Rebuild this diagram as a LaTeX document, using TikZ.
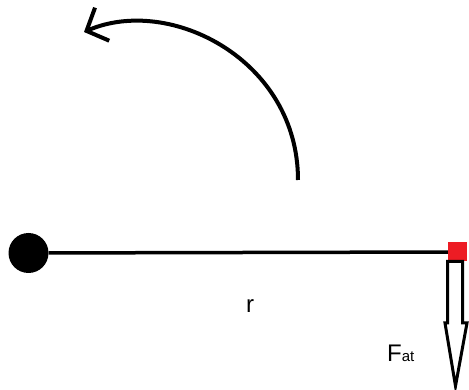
\documentclass[tikz,border=0pt]{standalone}
\usepackage{fontspec}
\setmainfont{Liberation Sans}
\usetikzlibrary{arrows.meta}
\definecolor{PaintRed}{HTML}{ED1C24}

\begin{document}
\begin{tikzpicture}[x=1pt,y=-1pt,
  mass/.style={circle,fill=black,inner sep=0pt,minimum size=40pt},
  tip/.style={rectangle,fill=PaintRed,inner sep=0pt,minimum size=19pt},
  rod/.style={line width=3.5pt},
  force/.style={line width=3pt,line join=miter,fill=white},
  spin/.style={line width=4pt,-{Straight Barb[length=17pt,width=36pt,line width=4pt]}},
  lbl/.style={inner sep=0pt,font=\fontsize{24}{26}\selectfont}]
\useasboundingbox (0,0) rectangle (469,390);
\node[mass] (ball) at (28.5,253) {};
\node[tip] (end) at (457.5,252) {};
\draw[rod] (ball) -- (end);
% hollow force arrow
\draw[force] (447.5,261.5) -- (447.5,323) -- (445,323) -- (455.5,386)
  -- (467,323) -- (462.5,323) -- (462.5,261.5) -- cycle;
\node[lbl,anchor=base west] (fat) at (387,361) {F{\fontsize{15}{16}\selectfont at}};
\node[lbl,anchor=base] (r) at (250,313) {r};
% rotation sense
\coordinate (a0) at (298,180);
\coordinate (a1) at (84,32);
\draw[spin] (a0) .. controls (298,60) and (170,-5) .. (a1);
\end{tikzpicture}
\end{document}
